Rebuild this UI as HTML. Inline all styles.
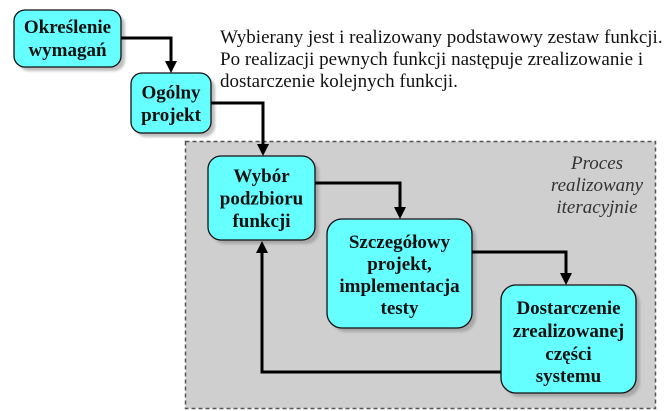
<!DOCTYPE html>
<html><head><meta charset="utf-8"><style>
html,body{margin:0;padding:0;background:#fff;}
svg{display:block;}
.b{font-family:"Liberation Serif",serif;font-weight:bold;font-size:19px;fill:#111;text-anchor:middle;}
.d{font-family:"Liberation Serif",serif;font-size:19px;fill:#111;}
.i{font-family:"Liberation Serif",serif;font-style:italic;font-size:19px;fill:#333;text-anchor:middle;}
</style></head><body>
<svg width="669" height="411" viewBox="0 0 669 411" xmlns="http://www.w3.org/2000/svg">
<defs>
<filter id="sh" x="-10%" y="-10%" width="130%" height="130%"><feGaussianBlur stdDeviation="1.2"/></filter>
</defs>
<rect x="0" y="0" width="669" height="411" fill="#fff"/>
<!-- gray iterative area -->
<rect x="185.5" y="141.5" width="470" height="267" fill="#cfcfcf" stroke="#555" stroke-width="1.5" stroke-dasharray="4,3"/>

<!-- shadows -->
<g fill="#888" opacity="0.55" filter="url(#sh)">
<rect x="18" y="14" width="107" height="57" rx="11"/>
<rect x="135" y="77" width="80" height="60" rx="11"/>
<rect x="212" y="160" width="107" height="84" rx="13"/>
<rect x="331" y="223" width="145" height="109" rx="15"/>
<rect x="505" y="289" width="135" height="108" rx="15"/>
</g>
<!-- boxes -->
<g fill="#66ffff" stroke="#111" stroke-width="1.3">
<rect x="14" y="10" width="107" height="57" rx="11"/>
<rect x="131" y="73" width="80" height="60" rx="11"/>
<rect x="208" y="156" width="107" height="84" rx="13"/>
<rect x="327" y="219" width="145" height="109" rx="15"/>
<rect x="501" y="285" width="135" height="108" rx="15"/>
</g>

<!-- connectors -->
<g fill="none" stroke="#000" stroke-width="3">
<path d="M121,38 H171 V62"/>
<path d="M211,103 H263 V145"/>
<path d="M315,183 H400 V208"/>
<path d="M472,252 H566 V274"/>
<path d="M501,372 H262 V252"/>
</g>
<g fill="#000">
<path d="M165,61 L177,61 L171,73 Z"/>
<path d="M257,144 L269,144 L263,156 Z"/>
<path d="M394,207 L406,207 L400,219 Z"/>
<path d="M560,273 L572,273 L566,285 Z"/>
<path d="M256,253 L268,253 L262,241 Z"/>
</g>

<!-- box texts -->
<text class="b" x="67.5" y="33">Określenie</text>
<text class="b" x="67.5" y="56">wymagań</text>
<text class="b" x="171" y="98.5">Ogólny</text>
<text class="b" x="171" y="121">projekt</text>
<text class="b" x="261.5" y="182">Wybór</text>
<text class="b" x="261.5" y="204.5">podzbioru</text>
<text class="b" x="261.5" y="227">funkcji</text>
<text class="b" x="399.5" y="248">Szczegółowy</text>
<text class="b" x="399.5" y="270">projekt,</text>
<text class="b" x="399.5" y="292">implementacja</text>
<text class="b" x="399.5" y="314">testy</text>
<text class="b" x="568.5" y="314">Dostarczenie</text>
<text class="b" x="568.5" y="337">zrealizowanej</text>
<text class="b" x="568.5" y="360">części</text>
<text class="b" x="568.5" y="382">systemu</text>

<!-- description -->
<text class="d" x="220" y="43">Wybierany jest i realizowany podstawowy zestaw funkcji.</text>
<text class="d" x="220" y="65">Po realizacji pewnych funkcji następuje zrealizowanie i</text>
<text class="d" x="220" y="87">dostarczenie kolejnych funkcji.</text>

<!-- area label -->
<text class="i" x="597" y="169">Proces</text>
<text class="i" x="597" y="191">realizowany</text>
<text class="i" x="597" y="213">iteracyjnie</text>
</svg>
</body></html>
